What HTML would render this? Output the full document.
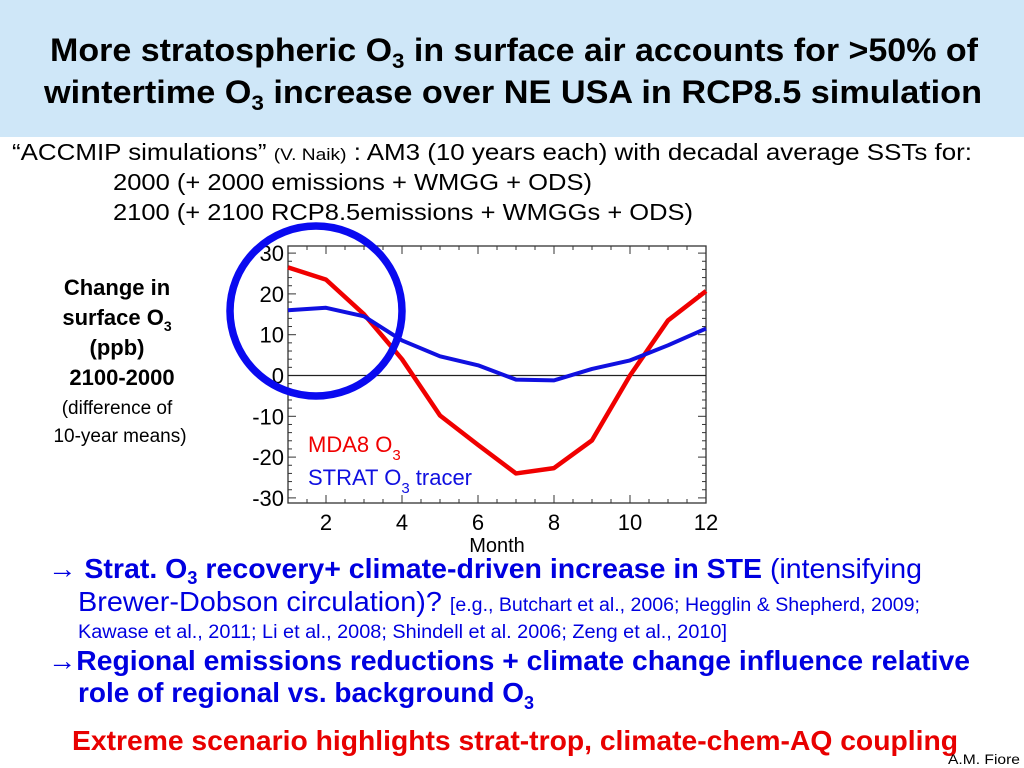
<!DOCTYPE html>
<html><head><meta charset="utf-8"><style>
body{margin:0;background:#fff}
svg{display:block;font-family:"Liberation Sans",Arial,sans-serif}
</style></head><body>
<svg width="1024" height="768" viewBox="0 0 1024 768">
<rect x="0" y="0" width="1024" height="137" fill="#cfe7f8"/>
<text x="514" y="61" text-anchor="middle" font-size="32" font-weight="bold" textLength="928" lengthAdjust="spacingAndGlyphs">More stratospheric O<tspan font-size="21" dy="7">3</tspan><tspan dy="-7"> in surface air accounts for &gt;50% of</tspan></text>
<text x="513" y="103" text-anchor="middle" font-size="32" font-weight="bold" textLength="938" lengthAdjust="spacingAndGlyphs">wintertime O<tspan font-size="21" dy="7">3</tspan><tspan dy="-7"> increase over NE USA in RCP8.5 simulation</tspan></text>

<text x="12" y="160" font-size="23" textLength="960" lengthAdjust="spacingAndGlyphs">“ACCMIP simulations” <tspan font-size="17">(V. Naik)</tspan> : AM3 (10 years each) with decadal average SSTs for:</text>
<text x="113" y="190" font-size="23" textLength="479" lengthAdjust="spacingAndGlyphs">2000 (+ 2000 emissions + WMGG + ODS)</text>
<text x="113" y="220" font-size="23" textLength="580" lengthAdjust="spacingAndGlyphs">2100 (+ 2100 RCP8.5emissions + WMGGs + ODS)</text>

<g text-anchor="middle" font-size="22">
<text x="117" y="295" font-weight="bold">Change in</text>
<text x="117" y="325" font-weight="bold">surface O<tspan font-size="14" dy="6">3</tspan></text>
<text x="117" y="355" font-weight="bold">(ppb)</text>
<text x="122" y="385" font-weight="bold">2100-2000</text>
<text x="117" y="414" font-size="19">(difference of</text>
<text x="120" y="442" font-size="19">10-year means)</text>
</g>

<g id="chart"></g>

<g>
<text x="48" y="578" font-size="28" fill="#0000e0" textLength="874" lengthAdjust="spacingAndGlyphs"><tspan font-weight="bold">→ Strat.  O<tspan font-size="18" dy="6">3</tspan><tspan dy="-6"> recovery+ climate-driven increase in STE</tspan></tspan> (intensifying</text>
<text x="78" y="611" font-size="28" fill="#0000e0" textLength="842" lengthAdjust="spacingAndGlyphs">Brewer-Dobson circulation)? <tspan font-size="19">[e.g., Butchart et al., 2006; Hegglin &amp; Shepherd, 2009;</tspan></text>
<text x="78" y="638" font-size="19" fill="#0000e0" textLength="649" lengthAdjust="spacingAndGlyphs">Kawase et al., 2011; Li et al., 2008; Shindell et al. 2006; Zeng et al., 2010]</text>
<text x="48" y="670" font-size="28" font-weight="bold" fill="#0000e0" textLength="922" lengthAdjust="spacingAndGlyphs">→Regional emissions reductions + climate change influence relative</text>
<text x="78" y="702" font-size="28" font-weight="bold" fill="#0000e0"><tspan textLength="446" lengthAdjust="spacingAndGlyphs">role of regional vs. background O</tspan><tspan font-size="18" dy="7">3</tspan></text>
<text x="72" y="750" font-size="28" font-weight="bold" fill="#e80000" textLength="886" lengthAdjust="spacingAndGlyphs">Extreme scenario highlights strat-trop, climate-chem-AQ coupling</text>
<text x="948" y="764" font-size="14" textLength="72" lengthAdjust="spacingAndGlyphs">A.M. Fiore</text>
</g>
</svg>
<script>
const months=[1,2,3,4,5,6,7,8,9,10,11,12];
const mda8=[26.5,23.5,15,4,-9.8,-17,-24,-22.7,-15.9,0,13.5,20.7];
const strat=[16,16.6,14.5,8.6,4.7,2.5,-1,-1.2,1.6,3.7,7.4,11.5];
const yTicks=[30,20,10,0,-10,-20,-30];
const xTicks=[2,4,6,8,10,12];
const NS="http://www.w3.org/2000/svg";
const g=document.getElementById('chart');
const X0=288,X1=706,Y0=246,Y1=503;
const xs=m=>288+(m-1)*38;
const ys=v=>375.5-v*4.08;
function mk(t,a){const e=document.createElementNS(NS,t);for(const k in a)e.setAttribute(k,a[k]);g.appendChild(e);return e;}
const box=mk('rect',{x:X0,y:Y0,width:X1-X0,height:Y1-Y0,fill:'none',stroke:'#333','stroke-width':1.3});


for(let m=1;m<=12;m+=0.5){const big=Number.isInteger(m)&&m%2==0;
const t1=mk('line',{x1:xs(m),x2:xs(m),y1:Y1,y2:Y1-(big?8:4),stroke:'#333'});


const t2=mk('line',{x1:xs(m),x2:xs(m),y1:Y0,y2:Y0+(big?8:4),stroke:'#333'});

}
for(let v=-30;v<=30;v+=2){const big=v%10==0;
const t1=mk('line',{x1:X0,x2:X0+(big?8:4),y1:ys(v),y2:ys(v),stroke:'#333'});


const t2=mk('line',{x1:X1,x2:X1-(big?8:4),y1:ys(v),y2:ys(v),stroke:'#333'});

}
yTicks.forEach(v=>{const t=mk('text',{x:284,y:ys(v)+8,'text-anchor':'end','font-size':22});t.textContent=v;

});
xTicks.forEach(m=>{const t=mk('text',{x:xs(m),y:530,'text-anchor':'middle','font-size':22});t.textContent=m;

});
const xt=mk('text',{x:497,y:552,'text-anchor':'middle','font-size':20});xt.textContent='Month';


const zl=mk('line',{x1:X0,x2:X1,y1:ys(0),y2:ys(0),stroke:'#222','stroke-width':1.3});


const pts=a=>a.map((v,i)=>xs(months[i])+','+ys(v)).join(' ');
const l1=mk('polyline',{points:pts(mda8),fill:'none',stroke:'#f00000','stroke-width':4.5,'stroke-linejoin':'round'});


const l2=mk('polyline',{points:pts(strat),fill:'none',stroke:'#1010e0','stroke-width':4,'stroke-linejoin':'round'});


const lg1=mk('text',{x:308,y:452,'font-size':22,fill:'#f00000'});lg1.innerHTML='MDA8 O<tspan font-size="15" dy="8">3</tspan>';


const lg2=mk('text',{x:308,y:485,'font-size':22,fill:'#1010e0'});lg2.innerHTML='STRAT O<tspan font-size="15" dy="8">3</tspan><tspan dy="-8"> tracer</tspan>';


const c=mk('ellipse',{cx:316,cy:311,rx:86,ry:85,fill:'none',stroke:'#0a0af0','stroke-width':7.5});


</script>
</body></html>
